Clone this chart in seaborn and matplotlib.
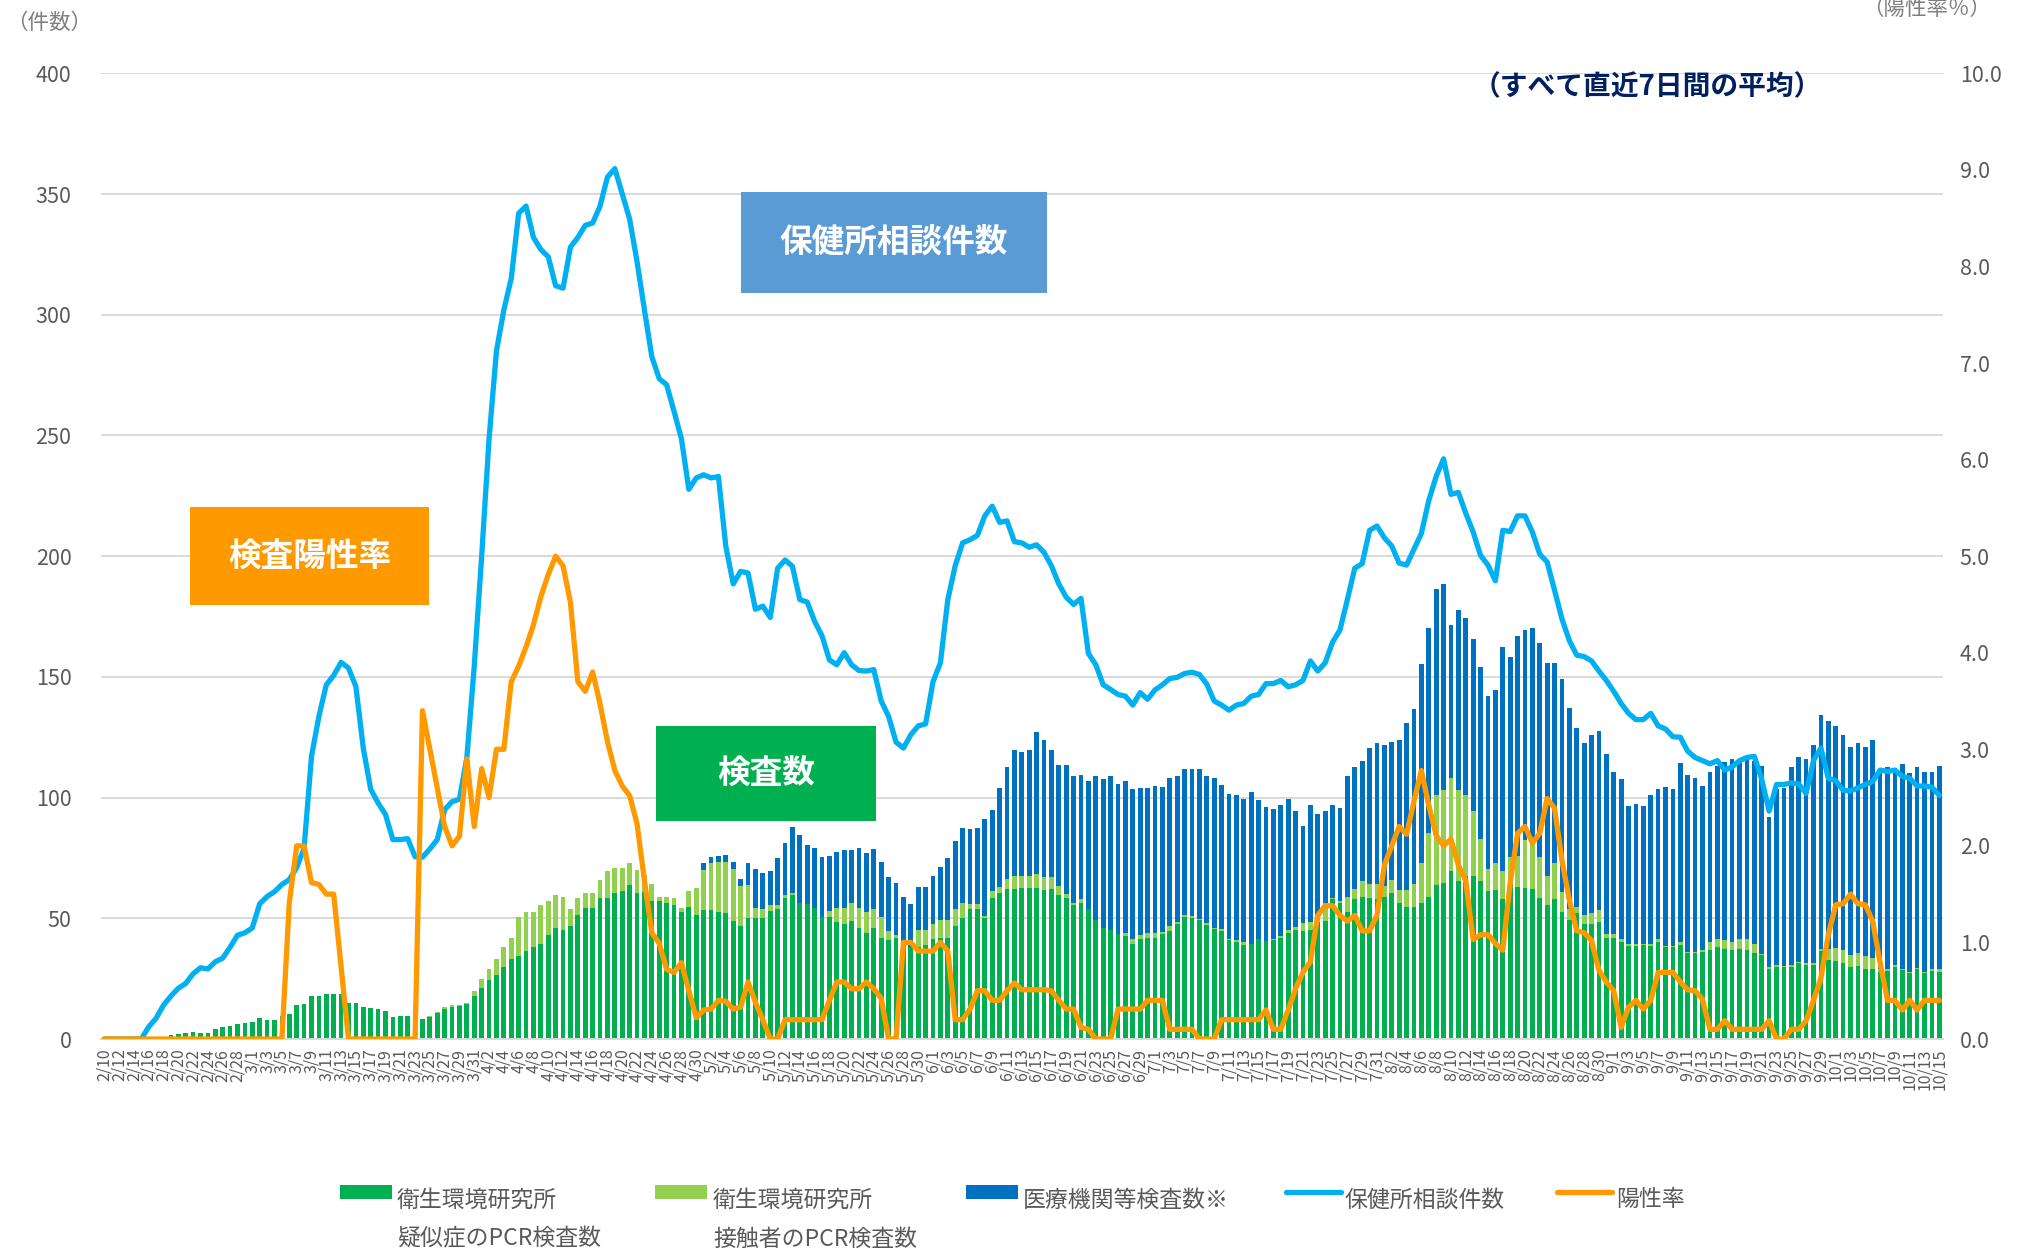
import numpy as np
import pandas as pd
import seaborn as sns
import matplotlib.pyplot as plt
from matplotlib.patches import Rectangle
from matplotlib.lines import Line2D

sns.set_style('white')
plt.rcParams['font.family'] = ['Noto Sans CJK JP', 'DejaVu Sans']

dates = pd.date_range('2020-02-10', '2020-10-15', freq='D')
day_labels = [f'{d.month}/{d.day}' for d in dates]

# 衛生環境研究所 疑似症のPCR検査数
suspect = [
    0, 0, 0, 0, 0, 0, 0, 0.5, 1, 1.5,
    2, 2.6, 3, 2.6, 2.4, 4, 5, 5.2, 6.3, 6.5,
    7, 8.6, 8, 8, 9.7, 10.5, 14, 14.4, 17.8, 18,
    18.8, 18.8, 18.8, 15, 15, 13.3, 13, 12.3, 11.5, 9,
    9.4, 9.4, 9, 8.4, 9, 10.7, 12.5, 13.3, 13.6, 14.6,
    17.8, 21.2, 24.6, 26.4, 29.8, 33.2, 34.5, 36.3, 37.9, 39.5,
    43, 45.8, 45.2, 46.8, 51.2, 54.4, 54.4, 58.6, 58.3, 60.4,
    61.4, 63.8, 60.4, 61, 57, 57, 56.2, 55.7, 52.5, 54.6,
    51.2, 53.3, 53.3, 52.8, 52, 48.9, 46.8, 50, 50, 50,
    53, 53.9, 58.6, 59.6, 56.5, 56, 54.4, 50.7, 50.7, 48.6,
    47.8, 49, 46, 43.9, 45.8, 42, 40.8, 42, 39.5, 38,
    38, 39, 41.3, 42, 42, 46.8, 50, 53.9, 53.9, 50,
    58.3, 60.4, 62.2, 62.2, 62.5, 62.5, 62.7, 61.7, 62.2, 59.6,
    58.6, 55.7, 56.5, 53.9, 49.4, 46, 45.2, 43.4, 42.6, 39.5,
    41.3, 42, 42, 43.4, 44.7, 47.8, 50.7, 50, 49.4, 47.3,
    45.5, 44.7, 40.8, 40, 39, 39.5, 41.3, 40.5, 40.8, 42,
    43.9, 45.2, 44.7, 45.2, 48.6, 49, 57.8, 56.5, 52.5, 57.8,
    59, 58.3, 57.8, 59, 60.4, 56.5, 54.6, 54.6, 56.5, 59,
    63.8, 64.8, 69.5, 65.6, 67.5, 67.5, 65.6, 61.2, 61.7, 57.8,
    64.3, 63, 62.5, 62.2, 58.6, 55.7, 57.8, 52.5, 49.4, 52,
    47.8, 47.8, 48.6, 42, 42, 40, 38.7, 38.7, 39, 38.7,
    40, 38.2, 38.2, 39, 35.6, 35.6, 36, 36.9, 38.2, 37.4,
    36.9, 37.4, 36.9, 35.6, 34.8, 29, 29.8, 29.8, 30, 31.6,
    30.8, 30.8, 36.3, 32.9, 32.2, 31.6, 29.8, 30.3, 29, 29,
    27.7, 28.2, 29.8, 28.5, 27.2, 29, 27.2, 28.2, 27.7,
]

# 衛生環境研究所 接触者のPCR検査数
contact = [0] * 44 + [
    0.5, 0.5, 0.8, 0.8, 0.5, 0.5,
    2, 3.8, 4.4, 6.6, 8.2, 8.8, 16.2, 16.2, 14.6, 16.2,
    14, 13.8, 13.6, 7.2, 7.4, 6, 6, 7.4, 11.2, 10.4,
    9.4, 9.2, 9.6, 7, 7.3, 2, 2.8, 2.6, 1.9, 6.8,
    11.3, 16.7, 19.7, 20.7, 21.5, 21.4, 16.7, 13.8, 4.4, 3.9,
    2.7, 1.8, 1, 0.8, 0, 0, 0, 0, 2.3, 5.8,
    6.6, 7.5, 8.4, 8.6, 8.1, 8.5, 3.9, 0.9, 0, 0,
    7.2, 6.2, 6.5, 7.4, 7.4, 7.1, 6.5, 2.1, 2.1, 1,
    2.9, 2.6, 4.2, 5.3, 5.2, 5.2, 5.5, 5.3, 4.8, 3.9,
    1.3, 0.8, 1.3, 0, 0, 0, 0, 0, 1.3, 1.8,
    1.6, 1.9, 1.9, 0.8, 2.1, 0.8, 0.5, 0.8, 0.5, 0.8,
    0.5, 0.8, 0.8, 0.8, 1, 0, 0, 0, 0.8, 0.8,
    1.3, 1.3, 3.4, 3.4, 2.6, 7.5, 0.5, 0.5, 6.5, 4.4,
    6.6, 6, 6.5, 4.5, 5.6, 5.2, 7.1, 9.7, 16.5, 26.2,
    37.2, 38.2, 38.5, 37.4, 33.5, 26.9, 17.4, 9.1, 11.3, 11.7,
    11.2, 13, 20.1, 19.8, 16.9, 12, 15.2, 8.5, 4.5, 2.6,
    3.4, 4.2, 4.7, 1.4, 1.4, 1.3, 0.8, 0.8, 0.5, 0.8,
    1.3, 0.5, 0.5, 1, 0.5, 0.5, 0.8, 3.1, 3.4, 3.4,
    3.4, 4.2, 4.7, 3.9, 0.5, 0.8, 1, 0.5, 0.5, 0.4,
    0.5, 0.5, 1.1, 4.5, 5.4, 5.3, 5, 5.3, 5.2, 4.7,
    1.3, 0.8, 1, 0.5, 0.5, 0.5, 0.5, 0.8, 1.3,
]

# 医療機関等検査数※
hospital = [0] * 81 + [
    2.7, 2.5, 2.5, 2.8, 2.9, 2.9, 8.9, 15.9, 14.9,
    13.8, 19.1, 21.7, 27.4, 27.9, 24.5, 24.8, 24.6, 23, 23,
    23.8, 21.7, 24.8, 24.4, 24.8, 23, 22.3, 21.9, 19.5, 18,
    17.8, 17.8, 19.7, 22, 25.4, 28.1, 30.8, 31, 31.3, 40,
    33.8, 41, 46.3, 52.2, 51.3, 52, 58.8, 56.7, 52.7, 50,
    53.6, 52.5, 51.7, 52.8, 59.6, 61.5, 63.8, 62.2, 62.8, 62.2,
    61.1, 60.1, 60.9, 60.1, 61.2, 60.4, 60.7, 61.2, 62, 60.9,
    62.2, 59.9, 59.8, 60.1, 59.6, 62.7, 57.7, 55.7, 53.6, 54.2,
    54.4, 47.9, 40.3, 48.4, 41.8, 37.9, 38.7, 38.7, 49.8, 50.5,
    49.7, 56.2, 58.3, 58.3, 57, 62.3, 69.3, 72.4, 82.3, 85,
    85.4, 85.5, 63.5, 74.5, 73.4, 71.4, 71, 71.7, 71.6, 92.9,
    82.7, 91, 86.8, 88.2, 88.7, 88.1, 82.8, 88.3, 83.1, 74.3,
    71.2, 73.8, 74.3, 74.6, 67.4, 66.2, 57, 58, 57, 61.4,
    62.2, 65.6, 64.8, 74.5, 73.2, 71.9, 68, 70.8, 71.6, 74,
    75.5, 73.2, 74.4, 75.8, 77.9, 62, 72.7, 73.7, 82.2, 84.6,
    84.7, 90.5, 97, 94.4, 92.1, 88.9, 86.2, 87, 86.8, 90,
    83, 83.7, 81.1, 85, 82.3, 83.2, 83.1, 81.8, 84.2,
]

# 保健所相談件数
consult = [
    0, 0, 0, 0, 0, 0, 5, 8.6, 14, 17.8,
    21, 23, 27, 29.5, 29, 32, 33.5, 38, 43, 44,
    46, 56, 59, 61, 64, 66, 71, 79, 117, 133.6,
    146.7, 150.6, 156, 153.7, 146, 120.5, 103.5, 97.8, 93, 82.6,
    82.6, 83, 75.5, 75.3, 78.7, 82.6, 95, 98.3, 99.3, 116.6,
    154.5, 200, 248.6, 285, 302, 315, 342, 345, 332, 327,
    324, 312, 311, 328, 332, 337, 338, 345, 357, 360.5,
    350, 339.6, 322, 302, 282.6, 273.5, 271, 260, 248.6, 227.7,
    232.4, 233.7, 232.4, 233, 204, 188.5, 193.7, 193, 178, 179.3,
    174.6, 195, 198.4, 195.8, 182, 181, 173, 167, 157, 155,
    160, 155, 152.6, 152.4, 153, 140, 133.6, 123, 120.5, 126,
    129.7, 130.5, 148, 155.8, 182, 196, 205.5, 206.8, 208.6, 216.7,
    220.7, 214, 214.6, 206, 205.5, 203.7, 204.7, 201.6, 196, 188.5,
    183, 180, 182.5, 159.7, 155, 146.7, 144.8, 142.7, 142, 138.3,
    143.5, 140.7, 144.6, 146.7, 149.3, 149.8, 151.4, 151.9, 151, 147,
    140, 138.3, 136.2, 138.3, 139, 142, 142.7, 147.2, 147.2, 148.5,
    145.9, 146.7, 148.5, 156.6, 152.4, 155.8, 164.4, 169.4, 182, 195,
    196.9, 210.7, 212.5, 207.6, 204.2, 197.1, 196.3, 202.9, 209.4, 223,
    233, 240.3, 225.6, 226.4, 217.8, 210, 200.3, 196.3, 189.8, 210.7,
    210.2, 216.7, 216.7, 210, 200.8, 197.6, 185.9, 174, 165, 159,
    158.4, 156.6, 152.4, 148.5, 144, 139, 134.9, 132.3, 132.3, 134.9,
    129.7, 128.4, 125.2, 125, 119.2, 116.6, 115.3, 114, 115.3, 111.4,
    112.7, 115.3, 116.6, 117.1, 107.5, 94.4, 105.4, 105.4, 106.1, 105.6,
    101.7, 115.3, 120.5, 108, 107, 103, 102.7, 104, 105.4, 106.7,
    111.4, 110.8, 111.4, 108.8, 108, 104.8, 104.8, 104.3, 100.9,
]

# 陽性率 (%)
positive_rate = [0] * 25 + [
    1.41, 2.0, 2.0, 1.62, 1.6,
    1.5, 1.5, 0.75, 0, 0, 0, 0, 0, 0, 0,
    0, 0, 0, 3.4, 3.0, 2.6, 2.2, 2.0, 2.1, 2.9,
    2.2, 2.8, 2.5, 3.0, 3.0, 3.7, 3.86, 4.06, 4.29, 4.58,
    4.81, 5.0, 4.9, 4.52, 3.7, 3.6, 3.8, 3.47, 3.08, 2.78,
    2.62, 2.52, 2.23, 1.64, 1.1, 0.99, 0.72, 0.69, 0.79, 0.5,
    0.22, 0.3, 0.31, 0.4, 0.39, 0.31, 0.33, 0.59, 0.38, 0.2,
    0, 0, 0.2, 0.2, 0.2, 0.2, 0.2, 0.2, 0.4, 0.59,
    0.59, 0.52, 0.52, 0.59, 0.52, 0.42, 0, 0, 1.0, 1.0,
    0.91, 0.91, 0.91, 1.0, 0.91, 0.2, 0.2, 0.31, 0.5, 0.5,
    0.4, 0.4, 0.5, 0.58, 0.51, 0.51, 0.51, 0.51, 0.5, 0.4,
    0.31, 0.31, 0.12, 0.1, 0, 0, 0, 0.31, 0.31, 0.31,
    0.31, 0.4, 0.4, 0.4, 0.1, 0.1, 0.1, 0.1, 0, 0,
    0, 0.2, 0.2, 0.2, 0.2, 0.2, 0.2, 0.3, 0.1, 0.1,
    0.3, 0.52, 0.69, 0.8, 1.28, 1.38, 1.38, 1.28, 1.22, 1.28,
    1.12, 1.12, 1.28, 1.8, 2.0, 2.2, 2.12, 2.46, 2.78, 2.42,
    2.11, 2.0, 2.07, 1.8, 1.64, 1.03, 1.08, 1.08, 0.99, 0.92,
    1.61, 2.13, 2.2, 2.03, 2.13, 2.49, 2.39, 1.85, 1.44, 1.12,
    1.1, 1.02, 0.71, 0.59, 0.5, 0.12, 0.33, 0.4, 0.31, 0.4,
    0.69, 0.69, 0.69, 0.59, 0.51, 0.5, 0.41, 0.1, 0.1, 0.19,
    0.1, 0.1, 0.1, 0.1, 0.1, 0.19, 0, 0, 0.1, 0.1,
    0.19, 0.4, 0.63, 1.08, 1.39, 1.4, 1.5, 1.4, 1.39, 1.22,
    0.79, 0.4, 0.4, 0.3, 0.4, 0.3, 0.4, 0.4, 0.4,
]

n = len(day_labels)
for s in (suspect, contact, hospital, consult, positive_rate):
    assert len(s) == n, len(s)

df = pd.DataFrame({
    'day': np.arange(n),
    'suspect': suspect,
    'contact': contact,
    'hospital': hospital,
    'consult': consult,
    'rate': positive_rate,
})
df['lvl2'] = df['suspect'] + df['contact']
df['lvl3'] = df['lvl2'] + df['hospital']

GREEN = '#00B050'
LGREEN = '#92D050'
BLUE = '#0070C0'
SKY = '#00B0F0'
ORANGE = '#FF9900'
GRAY = '#595959'

W, H = 2022, 1249
fig = plt.figure(figsize=(W / 100, H / 100), dpi=100)
ax = fig.add_axes([100.6 / W, 1 - 1039 / H, 1842.4 / W, 965.7 / H])

# stacked bars drawn as overlapping cumulative totals
for col, c in (('lvl3', BLUE), ('lvl2', LGREEN), ('suspect', GREEN)):
    sns.barplot(data=df, x='day', y=col, color=c, saturation=1, width=0.64,
                errorbar=None, ax=ax, zorder=2, linewidth=0, edgecolor='none')

sns.lineplot(data=df, x='day', y='consult', color=SKY, linewidth=3.8,
             estimator=None, ax=ax, zorder=3, solid_joinstyle='round')

ax.set_ylim(0, 400)
ax.set_xlim(-0.5, n - 0.5)
ax.set_yticks(np.arange(0, 401, 50))
ax.set_yticklabels([str(v) for v in range(0, 401, 50)])
ax.set_xticks(np.arange(0, n, 2))
ax.set_xticklabels(day_labels[::2], rotation=90)
ax.set_xlabel('')
ax.set_ylabel('')
ax.yaxis.grid(True, color='#d9d9d9', linewidth=1.4)
ax.xaxis.grid(False)
ax.set_axisbelow(True)
for side in ('top', 'left', 'right'):
    ax.spines[side].set_visible(False)
ax.spines['bottom'].set_color('#d9d9d9')
ax.spines['bottom'].set_linewidth(1.4)
ax.tick_params(axis='y', length=0, pad=21, labelsize=15.5, labelcolor=GRAY)
ax.tick_params(axis='x', length=5, width=1, color='#d9d9d9', pad=2,
               labelsize=11.5, labelcolor=GRAY)

ax2 = ax.twinx()
sns.lineplot(data=df, x='day', y='rate', color=ORANGE, linewidth=3.8,
             estimator=None, ax=ax2, solid_joinstyle='round')
ax2.set_ylim(0, 10)
ax2.set_xlim(-0.5, n - 0.5)
ax2.set_yticks(np.arange(0, 10.01, 1))
ax2.set_yticklabels([f'{v:.1f}' for v in np.arange(0, 10.01, 1)])
ax2.set_ylabel('')
ax2.grid(False)
for side in ax2.spines:
    ax2.spines[side].set_visible(False)
ax2.tick_params(axis='y', length=0, pad=12, labelsize=15.5, labelcolor=GRAY)


def fx(x):
    return x / W


def fy(y):
    return 1 - y / H


# axis captions and note
fig.text(fx(6), fy(23), '（件数）', fontsize=15.5, color='#7f7f7f', va='center', ha='left')
fig.text(fx(1927), fy(9), '（陽性率％）', fontsize=15.5, color='#7f7f7f', va='center', ha='center')
fig.text(fx(1647), fy(87), '（すべて直近7日間の平均）', fontsize=20, fontweight='bold',
         color='#002060', va='center', ha='center')

# labelled boxes
for (x0, y0, x1, y1), c, label in (
        ((741, 192, 1047, 293), '#5B9BD5', '保健所相談件数'),
        ((190, 507, 429, 605), ORANGE, '検査陽性率'),
        ((656, 726, 876, 821), GREEN, '検査数')):
    fig.add_artist(Rectangle((fx(x0), fy(y1)), (x1 - x0) / W, (y1 - y0) / H,
                             transform=fig.transFigure, facecolor=c,
                             edgecolor='none', zorder=5))
    fig.text(fx((x0 + x1) / 2), fy((y0 + y1) / 2), label, fontsize=23.5,
             fontweight='bold', color='white', ha='center', va='center', zorder=6)

# legend
leg_fs = 16.5
for x0, c in ((340, GREEN), (655, LGREEN), (966, BLUE)):
    fig.add_artist(Rectangle((fx(x0), fy(1199)), 52 / W, 14 / H,
                             transform=fig.transFigure, facecolor=c, edgecolor='none'))
for x0, c in ((1286, SKY), (1557, ORANGE)):
    fig.add_artist(Line2D([fx(x0), fx(x0 + 55)], [fy(1192), fy(1192)],
                          transform=fig.transFigure, color=c, linewidth=3.8,
                          solid_capstyle='round'))
for x, first, second in ((397, '衛生環境研究所', '疑似症のPCR検査数'),
                         (713, '衛生環境研究所', '接触者のPCR検査数'),
                         (1023, '医療機関等検査数※', None),
                         (1344, '保健所相談件数', None),
                         (1616, '陽性率', None)):
    fig.text(fx(x), fy(1200), first, fontsize=leg_fs, color=GRAY, va='center', ha='left')
    if second:
        fig.text(fx(x), fy(1239), second, fontsize=leg_fs, color=GRAY, va='center', ha='left')

fig.savefig('out.png', dpi=100)
